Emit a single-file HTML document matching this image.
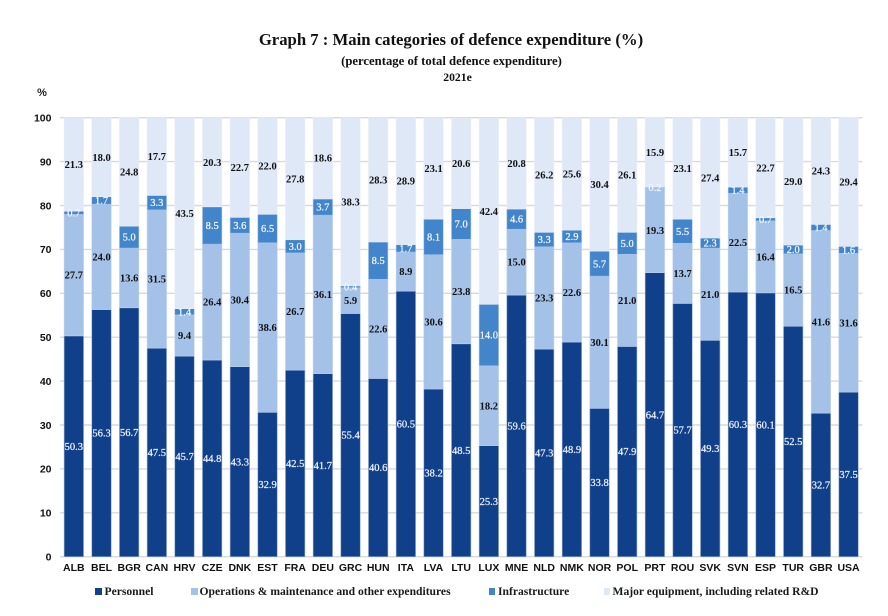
<!DOCTYPE html>
<html lang="en">
<head>
<meta charset="utf-8">
<title>Graph 7: Main categories of defence expenditure</title>
<style>
html,body{margin:0;padding:0;background:#fff;width:888px;height:616px;overflow:hidden}
svg{display:block}
.serif{font-family:"Liberation Serif",serif;font-weight:bold}
.serif-light{font-family:"Liberation Serif",serif;font-weight:normal;stroke-width:0.25}
.sans{font-family:"Liberation Sans",sans-serif;font-weight:bold}
</style>
</head>
<body>
<svg id="chart" width="888" height="616" viewBox="0 0 888 616">
  <text class="serif" x="451" y="45" text-anchor="middle" font-size="16.7" fill="#111">Graph 7 : Main categories of defence expenditure (%)</text>
  <text class="serif" x="451.5" y="65" text-anchor="middle" font-size="12.7" fill="#111">(percentage of total defence expenditure)</text>
  <text class="serif" x="457.5" y="81" text-anchor="middle" font-size="11.7" fill="#111">2021e</text>
  <text class="sans" x="42" y="96" text-anchor="middle" font-size="11" fill="#222">%</text>
  <g id="grid"></g>
  <g id="yticks"></g>
  <g id="bars"></g>
  <g id="labels"></g>
  <g id="xticks"></g>
  <g>
    <rect x="95" y="588" width="7" height="7" fill="#11408B"/>
    <text class="serif" x="104.500" y="595" font-size="11.6" fill="#1a1a1a">Personnel</text>
    <rect x="191" y="588" width="7" height="7" fill="#A4C1E8"/>
    <text class="serif" x="199.500" y="595" font-size="11.6" fill="#1a1a1a">Operations &amp; maintenance and other expenditures</text>
    <rect x="489" y="588" width="6" height="7" fill="#4285CA"/>
    <text class="serif" x="498" y="595" font-size="11.6" fill="#1a1a1a">Infrastructure</text>
    <rect x="604" y="588" width="6" height="7" fill="#DFE8F7"/>
    <text class="serif" x="612.500" y="595" font-size="11.6" fill="#1a1a1a">Major equipment, including related R&amp;D</text>
  </g>
</svg>
<script>
const categories = ["ALB","BEL","BGR","CAN","HRV","CZE","DNK","EST","FRA","DEU","GRC","HUN","ITA","LVA","LTU","LUX","MNE","NLD","NMK","NOR","POL","PRT","ROU","SVK","SVN","ESP","TUR","GBR","USA"];
const personnel = [50.3,56.3,56.7,47.5,45.7,44.8,43.3,32.9,42.5,41.7,55.4,40.6,60.5,38.2,48.5,25.3,59.6,47.3,48.9,33.8,47.9,64.7,57.7,49.3,60.3,60.1,52.5,32.7,37.5];
const operations = [27.7,24.0,13.6,31.5,9.4,26.4,30.4,38.6,26.7,36.1,5.9,22.6,8.9,30.6,23.8,18.2,15.0,23.3,22.6,30.1,21.0,19.3,13.7,21.0,22.5,16.4,16.5,41.6,31.6];
const infrastructure = [0.7,1.7,5.0,3.3,1.4,8.5,3.6,6.5,3.0,3.7,0.4,8.5,1.7,8.1,7.0,14.0,4.6,3.3,2.9,5.7,5.0,0.2,5.5,2.3,1.4,0.7,2.0,1.4,1.6];
const equipment = [21.3,18.0,24.8,17.7,43.5,20.3,22.7,22.0,27.8,18.6,38.3,28.3,28.9,23.1,20.6,42.4,20.8,26.2,25.6,30.4,26.1,15.9,23.1,27.4,15.7,22.7,29.0,24.3,29.4];
const yTicks = [0,10,20,30,40,50,60,70,80,90,100];

const NS = "http://www.w3.org/2000/svg";
const plotLeft = 60, plotRight = 862.4, plotTop = 117.7, plotBottom = 556.7;
const barWidth = 19.4;
const bandWidth = (plotRight - plotLeft) / categories.length;
const yScale = v => plotBottom - (v / 100) * (plotBottom - plotTop);
const xCenter = i => plotLeft + bandWidth * (i + 0.5);
const fmt = v => v.toFixed(1);

function make(tag, attrs, parent, txt) {
  const el = document.createElementNS(NS, tag);
  for (const k in attrs) el.setAttribute(k, attrs[k]);
  if (txt !== undefined) el.textContent = txt;
  parent.appendChild(el);
  return el;
}
const grid = document.getElementById("grid");
const yticksG = document.getElementById("yticks");
const barsG = document.getElementById("bars");
const labelsG = document.getElementById("labels");
const xticksG = document.getElementById("xticks");

yTicks.forEach(t => {
  const line = make("line", {x1: plotLeft, x2: plotRight, y1: yScale(t), y2: yScale(t), stroke: "#D9D9D9", "stroke-width": 1.4}, grid);
  
  
  const lab = make("text", {x: 51.5, y: yScale(t) + 3.8, "text-anchor": "end", "font-size": 10.5, fill: "#111", class: "sans"}, yticksG, String(t));
  
  
});

const seriesList = [
  {key: "personnel", values: personnel, fill: "#11408B", stroke: "#8FA9CF", text: "#EAF0FA", light: true},
  {key: "operations", values: operations, fill: "#A4C1E8", stroke: "#BDD2EE", text: "#111", light: false},
  {key: "infrastructure", values: infrastructure, fill: "#4285CA", stroke: "#A4C1E8", text: "#F2F6FC", light: true},
  {key: "equipment", values: equipment, fill: "#DFE8F7", stroke: "#E8EEF9", text: "#111", light: false}
];

categories.forEach((cat, i) => {
  let base = 0;
  seriesList.forEach(s => {
    const v = s.values[i];
    const yTop = yScale(base + v);
    const yBot = yScale(base);
    const rect = make("rect", {
      x: xCenter(i) - barWidth / 2, y: yTop, width: barWidth, height: yBot - yTop,
      fill: s.fill, stroke: s.stroke, "stroke-width": 0.6
    }, barsG);
    
    
    base += v;
  });
  base = 0;
  seriesList.forEach(s => {
    const v = s.values[i];
    const yMid = yScale(base + v / 2);
    const attrs = {
      x: xCenter(i), y: yMid + 3.6, "text-anchor": "middle", "font-size": 10.5,
      fill: s.text, class: s.light ? "serif-light" : "serif"
    };
    if (s.light) attrs.stroke = s.text;
    const lab = make("text", attrs, labelsG, fmt(v));
    
    
    base += v;
  });
  const cl = make("text", {x: xCenter(i), y: 571, "text-anchor": "middle", "font-size": 10.5, fill: "#111", class: "sans"}, xticksG, cat);
  
  
});
</script>
</body>
</html>
